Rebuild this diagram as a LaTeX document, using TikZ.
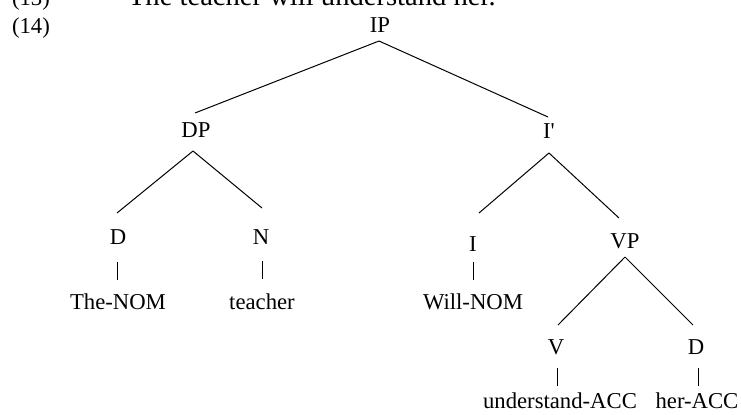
\documentclass[tikz,border=0pt]{standalone}
\usepackage{fontspec}
\setmainfont{Liberation Serif}
\usetikzlibrary{calc}
\begin{document}
\begin{tikzpicture}[x=0.5pt,y=-0.5pt,
  lbl/.style={anchor=base,inner sep=0pt,outer sep=0pt,font=\fontsize{11.35pt}{13pt}\selectfont},
  lft/.style={anchor=base west,inner sep=0pt,outer sep=0pt,font=\fontsize{11.35pt}{13pt}\selectfont},
  edge/.style={draw=black,line width=0.5pt}]
\useasboundingbox (0,0) rectangle (741,414);
% header lines
\node[lft] (n13) at (12,5) {(13)};
\node[lft,font=\fontsize{14.3pt}{16pt}\selectfont] (sent) at (128,5) {The teacher will understand her.};
\node[lft] (n14) at (12,33) {(14)};
% tree nodes
\node[lbl] (IP) at (380,32) {IP};
\node[lbl] (DP) at (196,137) {DP};
\node[lbl] (Ibar) at (549,138) {I\textquotesingle};
\node[lbl] (D1) at (118,244) {D};
\node[lbl] (N) at (261,244) {N};
\node[lbl] (I) at (473,251) {I};
\node[lbl] (VP) at (625,248) {VP};
\node[lbl] (V) at (556,354) {V};
\node[lbl] (D2) at (696,354) {D};
\node[lbl] (TheNOM) at (118,309) {The-NOM};
\node[lbl] (teacher) at (262,309) {teacher};
\node[lbl] (WillNOM) at (473,309) {Will-NOM};
\node[lbl] (und) at (560,408) {understand-ACC};
\node[lbl] (her) at (697,408) {her-ACC};
% branches
\draw[edge] ($(IP.base)+(-1,9)$) -- ($(DP.base)+(-1,-24)$);
\draw[edge] ($(IP.base)+(-1,9)$) -- ($(Ibar.base)+(-1,-21)$);
\draw[edge] ($(DP.base)+(-3,14)$) -- ($(D1.base)+(-1,-31)$);
\draw[edge] ($(DP.base)+(-3,14)$) -- ($(N.base)+(1,-36)$);
\draw[edge] ($(Ibar.base)+(0,15)$) -- ($(I.base)+(6,-38)$);
\draw[edge] ($(Ibar.base)+(0,15)$) -- ($(VP.base)+(-6,-30)$);
\draw[edge] ($(VP.base)+(0,9)$) -- ($(V.base)+(2,-29)$);
\draw[edge] ($(VP.base)+(0,9)$) -- ($(D2.base)+(-3,-29)$);
% lexical ticks
\draw[edge] ($(D1.base)+(-1,18)$) -- ($(TheNOM.base)+(-1,-29)$);
\draw[edge] ($(N.base)+(1,17)$) -- ($(teacher.base)+(0,-30)$);
\draw[edge] ($(I.base)+(0,11)$) -- ($(WillNOM.base)+(0,-29)$);
\draw[edge] ($(V.base)+(1,14)$) -- ($(und.base)+(-3,-22)$);
\draw[edge] ($(D2.base)+(2,14)$) -- ($(her.base)+(1,-22)$);
\end{tikzpicture}
\end{document}
